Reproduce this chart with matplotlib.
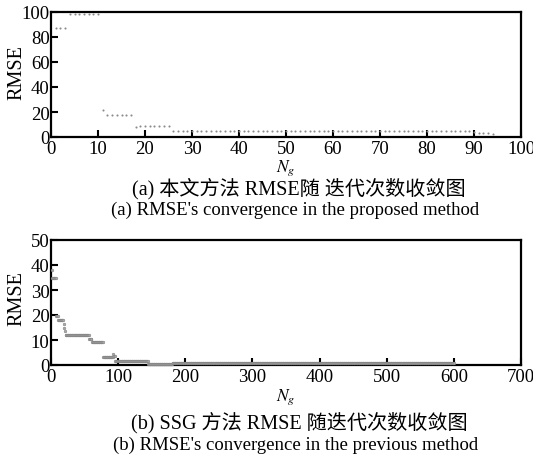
import numpy as np
import matplotlib
matplotlib.use("Agg")
import matplotlib.pyplot as plt

plt.rcParams['font.family'] = ['Liberation Serif', 'Noto Sans CJK SC']
plt.rcParams['mathtext.fontset'] = 'stix'

# ---- data (a): proposed method, RMSE per iteration ----
iter_a = list(range(1, 95))
rmse_a = ([87] * 3 + [98] * 7 + [22] + [18] * 6 + [8] + [9] * 7 +
          [5] * 64 + [4, 3.5, 3, 3, 2.5])

# ---- data (b): SSG method, plateaus (first iter, last iter, RMSE) ----
seg_start = [1, 2, 8, 11, 19, 20, 21, 22, 57, 61, 78, 93, 94, 96, 145, 181, 400]
seg_end   = [1, 7, 10, 18, 19, 20, 21, 56, 60, 77, 92, 93, 95, 144, 180, 399, 600]
seg_rmse  = [38, 35, 19.8, 18.2, 16.5, 15, 13.5, 12, 10.5, 9.3, 3.2, 4.5, 3.8, 1.8, 0.5, 1.0, 0.7]
iter_b = np.concatenate([np.arange(s, e + 1) for s, e in zip(seg_start, seg_end)])
rmse_b = np.concatenate([np.full(e - s + 1, v) for s, e, v in zip(seg_start, seg_end, seg_rmse)])

xticks_a = [0, 10, 20, 30, 40, 50, 60, 70, 80, 90, 100]
yticks_a = [0, 20, 40, 60, 80, 100]
xticks_b = [0, 100, 200, 300, 400, 500, 600, 700]
yticks_b = [0, 10, 20, 30, 40, 50]

cap_a_cn = "(a) 本文方法 RMSE随 迭代次数收敛图"
cap_a_en = "(a) RMSE's convergence in the proposed method"
cap_b_cn = "(b) SSG 方法 RMSE 随迭代次数收敛图"
cap_b_en = "(b) RMSE's convergence in the previous method"

W, H = 533, 464
fig = plt.figure(figsize=(W / 100, H / 100), dpi=100)

def px_axes(l, t, r, b):
    return fig.add_axes([l / W, 1 - b / H, (r - l) / W, (b - t) / H])

ax1 = px_axes(51, 13, 521, 138)
ax2 = px_axes(51, 241, 521, 366)

fs = 13.5
for ax in (ax1, ax2):
    for sp in ax.spines.values():
        sp.set_linewidth(1.6)
    ax.tick_params(direction='in', length=5, width=1.5, labelsize=fs, pad=2,
                   top=False, right=False)
    ax.tick_params(axis='y', pad=1)
    ax.set_ylabel('RMSE', fontsize=14.5)
    ax.set_xlabel('$N_g$', fontsize=12.5)

ax1.yaxis.set_label_coords(-0.052, 0.52)
ax2.yaxis.set_label_coords(-0.052, 0.54)
ax1.xaxis.set_label_coords(0.5, -0.16)
ax2.xaxis.set_label_coords(0.5, -0.17)

ax1.plot(iter_a, rmse_a, linestyle='none', marker='o', ms=1.5,
         mfc='#8a8a8a', mec='none', clip_on=False, zorder=3)
ax1.set_xlim(0, 100)
ax1.set_ylim(0, 100)
ax1.set_xticks(xticks_a)
ax1.set_yticks(yticks_a)

ax2.plot(iter_b, rmse_b, linestyle='none', marker='o', ms=2.0,
         mfc='#a8a8a8', mec='#787878', mew=0.3, clip_on=False, zorder=3)
ax2.set_xlim(0, 700)
ax2.set_ylim(0, 50)
ax2.set_xticks(xticks_b)
ax2.set_yticks(yticks_b)

fig.text(299 / W, 1 - 189 / H, cap_a_cn, ha='center', va='center', fontsize=14.5)
fig.text(295 / W, 1 - 210 / H, cap_a_en, ha='center', va='center', fontsize=13.5)
fig.text(299 / W, 1 - 423 / H, cap_b_cn, ha='center', va='center', fontsize=14.5)
fig.text(296 / W, 1 - 445 / H, cap_b_en, ha='center', va='center', fontsize=13.5)

fig.savefig('out.png', dpi=100)
